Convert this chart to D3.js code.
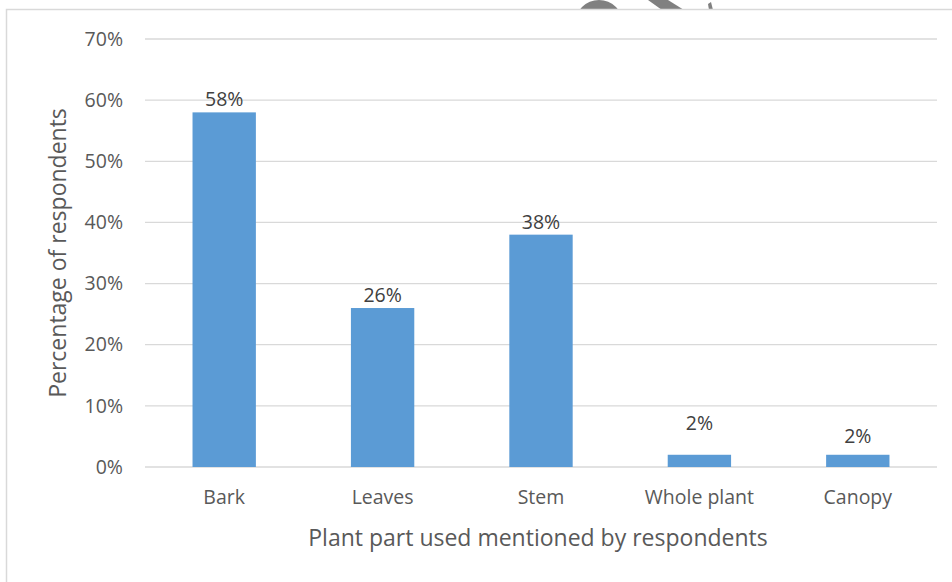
<!DOCTYPE html>
<html>
<head>
<meta charset="utf-8">
<script src="https://cdn.jsdelivr.net/npm/d3@7"></script>
<style>
  body { margin: 0; background: #fff; }
  text { font-family: "Open Sans", "Noto Sans", sans-serif; }
</style>
</head>
<body>
<div id="chart-area"></div>
<script>
// data
let parts = ["Bark", "Leaves", "Stem", "Whole plant", "Canopy"];
let shares = [0.58, 0.26, 0.38, 0.02, 0.02];
let yTicks = [0, 0.1, 0.2, 0.3, 0.4, 0.5, 0.6, 0.7];

let margin = {top: 39, right: 15, bottom: 115, left: 145};
let width = 952 - margin.left - margin.right;
let height = 582 - margin.top - margin.bottom;

let root = d3.select("#chart-area").append("svg")
	.attr("width", 952)
	.attr("height", 582);

// watermark scraps peeking over the top edge
root.append("circle")
	.attr("cx", 599).attr("cy", 24).attr("r", 24)
	.attr("fill", "#808080");
root.append("path")
	.attr("d", "M648,0 L668,0 L684,10 L662,10 Z")
	.attr("fill", "#808080");
root.append("path")
	.attr("d", "M708,4 L711,2 L713,10 L709,10 Z")
	.attr("fill", "#808080");
root.append("rect")
	.attr("x", 0).attr("y", 9)
	.attr("width", 952).attr("height", 600)
	.attr("fill", "#fff");

// outer chart border (runs off the right and bottom edges)
root.append("rect")
	.attr("x", 6.5).attr("y", 9.5)
	.attr("width", 1000).attr("height", 1000)
	.attr("fill", "none")
	.attr("stroke", "#d9d9d9")
	.attr("stroke-width", 1.5);

let svg = root.append("g")
	.attr("transform", "translate(" + margin.left + "," + margin.top + ")");

let x = d3.scaleBand().domain(parts).range([0, width]).paddingInner(0.6).paddingOuter(0.3);
let y = d3.scaleLinear().domain([0, 0.7]).range([height, 0]);

// gridlines
svg.append("g")
	.selectAll("line")
	.data(yTicks)
	.enter().append("line")
	.attr("x1", 0).attr("x2", width)
	.attr("y1", d => y(d)).attr("y2", d => y(d))
	.attr("stroke", "#d9d9d9")
	.attr("stroke-width", 1.3);

// y axis labels
let yAxis = d3.axisLeft(y).tickValues(yTicks).tickFormat(d3.format(".0%")).tickSize(0).tickPadding(22);
let yAxisGroup = svg.append("g").call(yAxis);
yAxisGroup.select(".domain").remove();
yAxisGroup.selectAll("text")
	.attr("fill", "#595959")
	.style("font-size", "19.5px");

// x axis labels
let xAxis = d3.axisBottom(x).tickSize(0).tickPadding(23);
let xAxisGroup = svg.append("g")
	.attr("transform", "translate(0," + height + ")")
	.call(xAxis);
xAxisGroup.select(".domain").remove();
xAxisGroup.selectAll("text")
	.attr("fill", "#595959")
	.style("font-size", "19.5px");

// bars
svg.selectAll("rect.bar")
	.data(shares)
	.enter().append("rect")
	.attr("class", "bar")
	.attr("x", (d, i) => x(parts[i]))
	.attr("y", d => y(d))
	.attr("width", x.bandwidth())
	.attr("height", d => height - y(d))
	.attr("fill", "#5b9bd5");

// value labels - the two small ones sit higher in the original
let lift = {"Whole plant": 25, "Canopy": 12};
svg.selectAll("text.val")
	.data(shares)
	.enter().append("text")
	.attr("class", "val")
	.attr("x", (d, i) => x(parts[i]) + x.bandwidth() / 2)
	.attr("y", (d, i) => y(d) - (lift[parts[i]] || 6))
	.attr("text-anchor", "middle")
	.attr("fill", "#404040")
	.style("font-size", "19.5px")
	.text(d => d3.format(".0%")(d));

// axis titles
root.append("text")
	.attr("x", margin.left + width / 2 - 3)
	.attr("y", 546)
	.attr("text-anchor", "middle")
	.attr("fill", "#595959")
	.style("font-size", "23px")
	.text("Plant part used mentioned by respondents");

root.append("text")
	.attr("transform", "translate(66," + 253 + ") rotate(-90)")
	.attr("text-anchor", "middle")
	.attr("fill", "#595959")
	.style("font-size", "23px")
	.text("Percentage of respondents");
</script>
</body>
</html>
